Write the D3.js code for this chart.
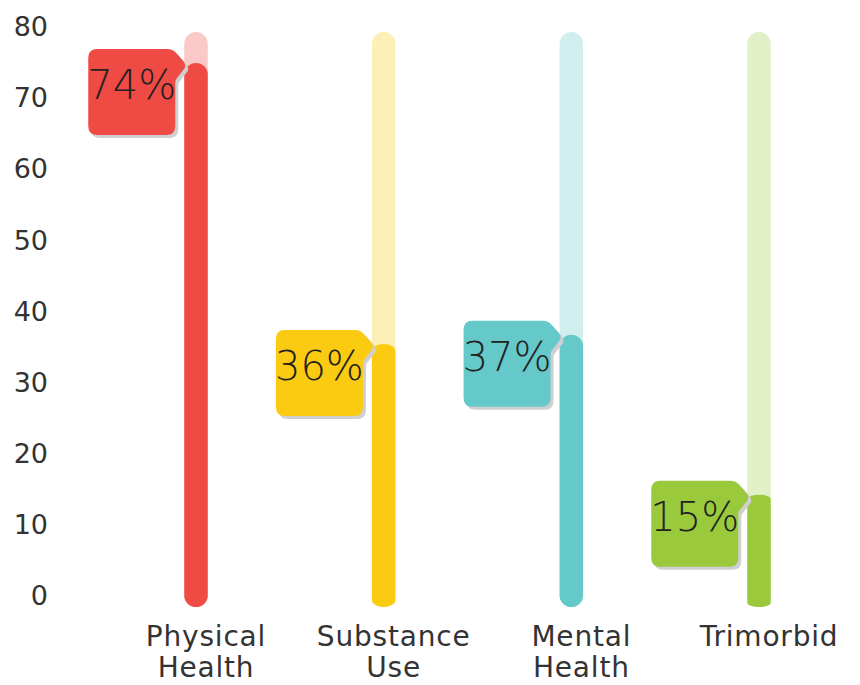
<!DOCTYPE html>
<html>
<head>
<meta charset="utf-8">
<script src="https://cdn.jsdelivr.net/npm/d3@7"></script>
<style>
  html, body { margin: 0; padding: 0; background: #fff; }
  svg { display: block; }
</style>
</head>
<body>
<svg id="chart" width="860" height="685"></svg>
<script>
// ---- data ----
const categories = ["Physical Health", "Substance Use", "Mental Health", "Trimorbid"];
const categoryLines = [["Physical", "Health"], ["Substance", "Use"], ["Mental", "Health"], ["Trimorbid"]];
const labelValues = [74, 36, 37, 15];            // printed percentages
const barValues = [74.8, 35.3, 36.6, 14.1];       // bar heights as drawn
const yTicks = [0, 10, 20, 30, 40, 50, 60, 70, 80];

// ---- styles ----
const fgColors = ["#f04a45", "#fbcb12", "#66c9c9", "#9aca3c"];
const bgColors = ["#fac9c7", "#fdf0b6", "#d1eeee", "#e1f0c6"];
const capRy = [11.5, 7, 11.5, 4];
const FONT = "'DejaVu Sans', 'Open Sans', sans-serif";

const svg = d3.select("#chart");

const y = d3.scaleLinear().domain([0, 80]).range([595, 26]);
const x = d3.scalePoint().domain(categories).range([196, 759]);

const barW = 23.5;

// y axis labels (no line, no ticks)
const yAxis = d3.axisLeft(y).tickValues(yTicks).tickSize(0).tickPadding(0);
const gy = svg.append("g").attr("transform", "translate(48,0)").call(yAxis);
gy.select(".domain").remove();
gy.selectAll("text")
  .attr("fill", "#333")
  .style("font-family", FONT)
  .style("font-size", "27px")
  .attr("dy", "0.36em");

const data = categories.map((c, i) => ({
  c, i, v: barValues[i], lv: labelValues[i]
}));

// background bars
svg.append("g").selectAll("rect").data(data).join("rect")
  .attr("x", d => x(d.c) - barW / 2)
  .attr("y", y(80) + 6)
  .attr("width", barW)
  .attr("height", (y(0) + 12) - (y(80) + 6))
  .attr("rx", barW / 2).attr("ry", barW / 2)
  .attr("fill", d => bgColors[d.i]);

// foreground bars
svg.append("g").selectAll("rect").data(data).join("rect")
  .attr("x", d => x(d.c) - barW / 2)
  .attr("y", d => y(d.v))
  .attr("width", barW)
  .attr("height", d => (y(0) + 12) - y(d.v))
  .attr("rx", barW / 2).attr("ry", d => capRy[d.i])
  .attr("fill", d => fgColors[d.i]);

// tag shaped label boxes
const bw = 87, bh = 86, r = 9;
function tagPath() {
  return [
    `M${r},0`,
    `L${bw - 8},0`,
    `Q${bw - 3},0 ${bw},3`,
    `L${bw + 8},12`,
    `Q${bw + 12},17 ${bw + 8},21`,
    `L${bw + 1},30`,
    `Q${bw},31 ${bw},34`,
    `L${bw},${bh - r}`,
    `Q${bw},${bh} ${bw - r},${bh}`,
    `L${r},${bh}`,
    `Q0,${bh} 0,${bh - r}`,
    `L0,${r}`,
    `Q0,0 ${r},0`,
    "Z"
  ].join(" ");
}

const tags = svg.append("g").selectAll("g").data(data).join("g")
  .attr("transform", d => `translate(${x(d.c) - barW / 2 - 9 - bw},${y(d.v) - 14})`);

tags.append("path")
  .attr("d", tagPath())
  .attr("transform", "translate(3,3)")
  .attr("fill", "#cfcfcf");

tags.append("path")
  .attr("d", tagPath())
  .attr("fill", d => fgColors[d.i]);

tags.append("text")
  .attr("x", bw / 2)
  .attr("y", bh / 2 - 7)
  .attr("dy", "0.36em")
  .attr("text-anchor", "middle")
  .attr("fill", "#222")
  .style("font-family", FONT)
  .style("font-weight", 200)
  .style("font-size", "40px")
  .text(d => d.lv + "%");

// category labels
const cl = svg.append("g").selectAll("text").data(data).join("text")
  .attr("text-anchor", "middle")
  .attr("fill", "#333")
  .style("font-family", FONT)
  .style("font-size", "28px")
  .style("letter-spacing", "0.8px")
  .attr("transform", d => `translate(${x(d.c) + 10},646)`);
cl.selectAll("tspan").data(d => categoryLines[d.i]).join("tspan")
  .attr("x", 0)
  .attr("y", (t, j) => j * 31)
  .text(t => t);
</script>
</body>
</html>
